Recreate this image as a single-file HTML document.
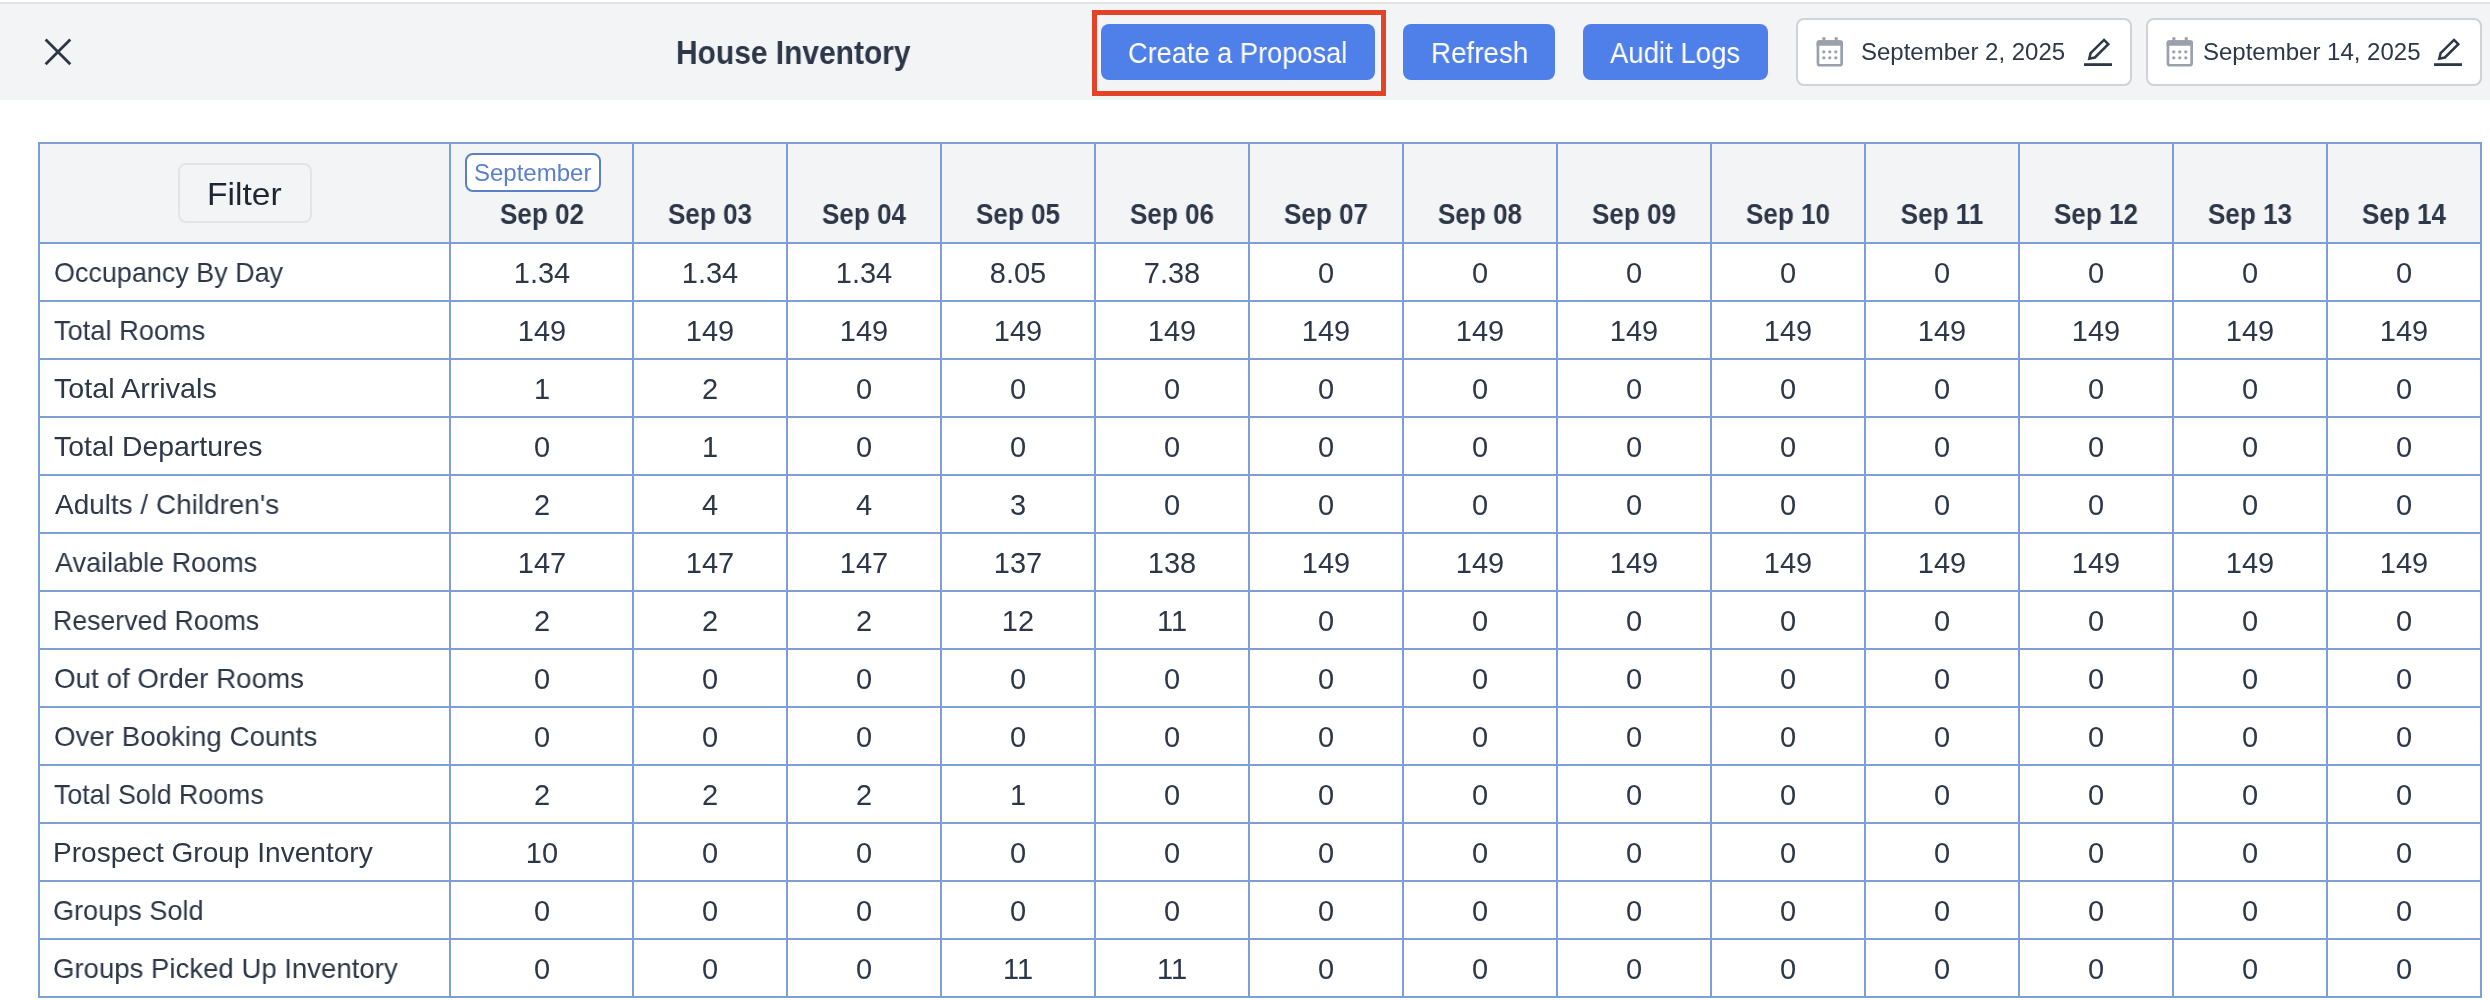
<!DOCTYPE html>
<html><head><meta charset="utf-8"><title>House Inventory</title>
<style>
html,body{margin:0;padding:0;background:#fff;}
body{width:2490px;height:1000px;position:relative;overflow:hidden;font-family:"Liberation Sans",sans-serif;color:#2d3748;}
.a{position:absolute;}
.t{position:absolute;white-space:nowrap;line-height:1;will-change:transform;}
.c{position:absolute;white-space:nowrap;line-height:1;text-align:center;width:200px;will-change:transform;}
.vl{position:absolute;width:2px;background:#7e9fd5;top:142px;height:856px;}
.hl{position:absolute;height:2px;background:#7e9fd5;left:38px;width:2444px;}
.btn{position:absolute;background:#4f80ea;border-radius:8px;top:24px;height:56px;}
.btxt{position:absolute;white-space:nowrap;line-height:1;color:#fff;font-size:29px;transform-origin:0 0;will-change:transform;}
.dp{position:absolute;top:18px;height:64px;width:332px;border:2px solid #cfd2d6;border-radius:8px;background:#fff;}
</style></head><body>

<div class="a" style="left:0;top:2px;width:2490px;height:2px;background:#e2e3e5"></div>
<div class="a" style="left:0;top:4px;width:2490px;height:96px;background:#f3f4f6"></div>
<svg class="a" style="left:40px;top:34px" width="36" height="36" viewBox="0 0 36 36"><path d="M5.6 5.5 L30.3 30.2 M30.3 5.5 L5.6 30.2" stroke="#2d3748" stroke-width="2.8" fill="none"/></svg>
<div class="t" id="title" style="left:676px;top:35.5px;font-size:33px;font-weight:700;transform:scaleX(0.907);transform-origin:0 0">House Inventory</div>
<div class="a" style="left:1092px;top:10px;width:284px;height:76px;border:5px solid #e24329"></div>
<div class="btn" style="left:1101px;width:274px"></div>
<div class="btxt" id="b1" style="left:1128px;top:39px;transform:scaleX(0.938)">Create a Proposal</div>
<div class="btn" style="left:1403px;width:152px"></div>
<div class="btxt" id="b2" style="left:1430.5px;top:39px;transform:scaleX(0.957)">Refresh</div>
<div class="btn" style="left:1583px;width:185px"></div>
<div class="btxt" id="b3" style="left:1610px;top:39px;transform:scaleX(0.95)">Audit Logs</div>
<div class="dp" style="left:1796px"></div>
<svg class="a" style="left:1810px;top:32px" width="40" height="40" viewBox="0 0 40 40"><rect x="7.95" y="9.55" width="23.7" height="23.7" rx="2" fill="none" stroke="#9ba1ab" stroke-width="2.7"/><path d="M6.6 10.6 Q6.6 8.2 9 8.2 L30.6 8.2 Q33 8.2 33 10.6 L33 13.8 L6.6 13.8 Z" fill="#9ba1ab"/><rect x="12.4" y="5.2" width="3" height="4" fill="#9ba1ab"/><rect x="24.7" y="5.2" width="3" height="4" fill="#9ba1ab"/><g fill="#9ba1ab"><circle cx="13.8" cy="19.8" r="1.6"/><circle cx="19.8" cy="19.8" r="1.6"/><circle cx="25.8" cy="19.8" r="1.6"/><circle cx="13.8" cy="25.8" r="1.6"/><circle cx="19.8" cy="25.8" r="1.6"/><circle cx="25.8" cy="25.8" r="1.6"/></g></svg>
<div class="t" id="d1" style="left:1861px;top:40px;font-size:24px">September 2, 2025</div>
<svg class="a" style="left:2084px;top:37px" width="30" height="30" viewBox="0 0 30 30"><path d="M20 2.9 L24.3 7.2 L10.9 20.5 L5.3 21.7 L6.6 16.2 Z" fill="none" stroke="#2d3748" stroke-width="2.5" stroke-linejoin="miter"/><rect x="0" y="26.2" width="28" height="2.8" fill="#2d3748"/></svg>
<div class="dp" style="left:2146px"></div>
<svg class="a" style="left:2160px;top:32px" width="40" height="40" viewBox="0 0 40 40"><rect x="7.95" y="9.55" width="23.7" height="23.7" rx="2" fill="none" stroke="#9ba1ab" stroke-width="2.7"/><path d="M6.6 10.6 Q6.6 8.2 9 8.2 L30.6 8.2 Q33 8.2 33 10.6 L33 13.8 L6.6 13.8 Z" fill="#9ba1ab"/><rect x="12.4" y="5.2" width="3" height="4" fill="#9ba1ab"/><rect x="24.7" y="5.2" width="3" height="4" fill="#9ba1ab"/><g fill="#9ba1ab"><circle cx="13.8" cy="19.8" r="1.6"/><circle cx="19.8" cy="19.8" r="1.6"/><circle cx="25.8" cy="19.8" r="1.6"/><circle cx="13.8" cy="25.8" r="1.6"/><circle cx="19.8" cy="25.8" r="1.6"/><circle cx="25.8" cy="25.8" r="1.6"/></g></svg>
<div class="t" id="d2" style="left:2203px;top:40px;font-size:24px">September 14, 2025</div>
<svg class="a" style="left:2434px;top:37px" width="30" height="30" viewBox="0 0 30 30"><path d="M20 2.9 L24.3 7.2 L10.9 20.5 L5.3 21.7 L6.6 16.2 Z" fill="none" stroke="#2d3748" stroke-width="2.5" stroke-linejoin="miter"/><rect x="0" y="26.2" width="28" height="2.8" fill="#2d3748"/></svg>
<div class="a" style="left:40px;top:144px;width:2440px;height:98px;background:#f3f4f6"></div>
<div class="hl" style="top:142px"></div>
<div class="hl" style="top:242px"></div>
<div class="hl" style="top:300px"></div>
<div class="hl" style="top:358px"></div>
<div class="hl" style="top:416px"></div>
<div class="hl" style="top:474px"></div>
<div class="hl" style="top:532px"></div>
<div class="hl" style="top:590px"></div>
<div class="hl" style="top:648px"></div>
<div class="hl" style="top:706px"></div>
<div class="hl" style="top:764px"></div>
<div class="hl" style="top:822px"></div>
<div class="hl" style="top:880px"></div>
<div class="hl" style="top:938px"></div>
<div class="hl" style="top:996px"></div>
<div class="vl" style="left:38px"></div>
<div class="vl" style="left:449px"></div>
<div class="vl" style="left:632px"></div>
<div class="vl" style="left:786px"></div>
<div class="vl" style="left:940px"></div>
<div class="vl" style="left:1094px"></div>
<div class="vl" style="left:1248px"></div>
<div class="vl" style="left:1402px"></div>
<div class="vl" style="left:1556px"></div>
<div class="vl" style="left:1710px"></div>
<div class="vl" style="left:1864px"></div>
<div class="vl" style="left:2018px"></div>
<div class="vl" style="left:2172px"></div>
<div class="vl" style="left:2326px"></div>
<div class="vl" style="left:2480px"></div>
<div class="a" style="left:178px;top:163px;width:130px;height:56px;border:2px solid #e3e5e8;border-radius:8px"></div>
<div class="t" id="filter" style="left:206.5px;top:178px;font-size:32px;color:#1f2633;transform:scaleX(1.05);transform-origin:0 0">Filter</div>
<div class="a" style="left:465px;top:153px;width:132px;height:35px;border:2px solid #5b80c8;border-radius:8px;background:#fff"></div>
<div class="t" id="sept" style="left:474px;top:161px;font-size:24px;color:#5a80cc">September</div>
<div class="c" style="left:441.5px;top:200px;font-size:29px;font-weight:700;transform:scaleX(0.90)">Sep 02</div>
<div class="c" style="left:610px;top:200px;font-size:29px;font-weight:700;transform:scaleX(0.90)">Sep 03</div>
<div class="c" style="left:764px;top:200px;font-size:29px;font-weight:700;transform:scaleX(0.90)">Sep 04</div>
<div class="c" style="left:918px;top:200px;font-size:29px;font-weight:700;transform:scaleX(0.90)">Sep 05</div>
<div class="c" style="left:1072px;top:200px;font-size:29px;font-weight:700;transform:scaleX(0.90)">Sep 06</div>
<div class="c" style="left:1226px;top:200px;font-size:29px;font-weight:700;transform:scaleX(0.90)">Sep 07</div>
<div class="c" style="left:1380px;top:200px;font-size:29px;font-weight:700;transform:scaleX(0.90)">Sep 08</div>
<div class="c" style="left:1534px;top:200px;font-size:29px;font-weight:700;transform:scaleX(0.90)">Sep 09</div>
<div class="c" style="left:1688px;top:200px;font-size:29px;font-weight:700;transform:scaleX(0.90)">Sep 10</div>
<div class="c" style="left:1842px;top:200px;font-size:29px;font-weight:700;transform:scaleX(0.90)">Sep 11</div>
<div class="c" style="left:1996px;top:200px;font-size:29px;font-weight:700;transform:scaleX(0.90)">Sep 12</div>
<div class="c" style="left:2150px;top:200px;font-size:29px;font-weight:700;transform:scaleX(0.90)">Sep 13</div>
<div class="c" style="left:2304px;top:200px;font-size:29px;font-weight:700;transform:scaleX(0.90)">Sep 14</div>
<div class="t" style="left:53.5px;top:259px;font-size:28px;color:#2d3748;transform:scaleX(0.9624);transform-origin:0 0">Occupancy By Day</div>
<div class="c" style="left:441.5px;top:259px;font-size:29px;color:#2d3748">1.34</div>
<div class="c" style="left:610px;top:259px;font-size:29px;color:#2d3748">1.34</div>
<div class="c" style="left:764px;top:259px;font-size:29px;color:#2d3748">1.34</div>
<div class="c" style="left:918px;top:259px;font-size:29px;color:#2d3748">8.05</div>
<div class="c" style="left:1072px;top:259px;font-size:29px;color:#2d3748">7.38</div>
<div class="c" style="left:1226px;top:259px;font-size:29px;color:#2d3748">0</div>
<div class="c" style="left:1380px;top:259px;font-size:29px;color:#2d3748">0</div>
<div class="c" style="left:1534px;top:259px;font-size:29px;color:#2d3748">0</div>
<div class="c" style="left:1688px;top:259px;font-size:29px;color:#2d3748">0</div>
<div class="c" style="left:1842px;top:259px;font-size:29px;color:#2d3748">0</div>
<div class="c" style="left:1996px;top:259px;font-size:29px;color:#2d3748">0</div>
<div class="c" style="left:2150px;top:259px;font-size:29px;color:#2d3748">0</div>
<div class="c" style="left:2304px;top:259px;font-size:29px;color:#2d3748">0</div>
<div class="t" style="left:53.5px;top:317px;font-size:28px;color:#2d3748;transform:scaleX(0.9725);transform-origin:0 0">Total Rooms</div>
<div class="c" style="left:441.5px;top:317px;font-size:29px;color:#2d3748">149</div>
<div class="c" style="left:610px;top:317px;font-size:29px;color:#2d3748">149</div>
<div class="c" style="left:764px;top:317px;font-size:29px;color:#2d3748">149</div>
<div class="c" style="left:918px;top:317px;font-size:29px;color:#2d3748">149</div>
<div class="c" style="left:1072px;top:317px;font-size:29px;color:#2d3748">149</div>
<div class="c" style="left:1226px;top:317px;font-size:29px;color:#2d3748">149</div>
<div class="c" style="left:1380px;top:317px;font-size:29px;color:#2d3748">149</div>
<div class="c" style="left:1534px;top:317px;font-size:29px;color:#2d3748">149</div>
<div class="c" style="left:1688px;top:317px;font-size:29px;color:#2d3748">149</div>
<div class="c" style="left:1842px;top:317px;font-size:29px;color:#2d3748">149</div>
<div class="c" style="left:1996px;top:317px;font-size:29px;color:#2d3748">149</div>
<div class="c" style="left:2150px;top:317px;font-size:29px;color:#2d3748">149</div>
<div class="c" style="left:2304px;top:317px;font-size:29px;color:#2d3748">149</div>
<div class="t" style="left:53.5px;top:375px;font-size:28px;color:#2d3748;transform:scaleX(1.0255);transform-origin:0 0">Total Arrivals</div>
<div class="c" style="left:441.5px;top:375px;font-size:29px;color:#2d3748">1</div>
<div class="c" style="left:610px;top:375px;font-size:29px;color:#2d3748">2</div>
<div class="c" style="left:764px;top:375px;font-size:29px;color:#2d3748">0</div>
<div class="c" style="left:918px;top:375px;font-size:29px;color:#2d3748">0</div>
<div class="c" style="left:1072px;top:375px;font-size:29px;color:#2d3748">0</div>
<div class="c" style="left:1226px;top:375px;font-size:29px;color:#2d3748">0</div>
<div class="c" style="left:1380px;top:375px;font-size:29px;color:#2d3748">0</div>
<div class="c" style="left:1534px;top:375px;font-size:29px;color:#2d3748">0</div>
<div class="c" style="left:1688px;top:375px;font-size:29px;color:#2d3748">0</div>
<div class="c" style="left:1842px;top:375px;font-size:29px;color:#2d3748">0</div>
<div class="c" style="left:1996px;top:375px;font-size:29px;color:#2d3748">0</div>
<div class="c" style="left:2150px;top:375px;font-size:29px;color:#2d3748">0</div>
<div class="c" style="left:2304px;top:375px;font-size:29px;color:#2d3748">0</div>
<div class="t" style="left:53.5px;top:433px;font-size:28px;color:#2d3748;transform:scaleX(1.0148);transform-origin:0 0">Total Departures</div>
<div class="c" style="left:441.5px;top:433px;font-size:29px;color:#2d3748">0</div>
<div class="c" style="left:610px;top:433px;font-size:29px;color:#2d3748">1</div>
<div class="c" style="left:764px;top:433px;font-size:29px;color:#2d3748">0</div>
<div class="c" style="left:918px;top:433px;font-size:29px;color:#2d3748">0</div>
<div class="c" style="left:1072px;top:433px;font-size:29px;color:#2d3748">0</div>
<div class="c" style="left:1226px;top:433px;font-size:29px;color:#2d3748">0</div>
<div class="c" style="left:1380px;top:433px;font-size:29px;color:#2d3748">0</div>
<div class="c" style="left:1534px;top:433px;font-size:29px;color:#2d3748">0</div>
<div class="c" style="left:1688px;top:433px;font-size:29px;color:#2d3748">0</div>
<div class="c" style="left:1842px;top:433px;font-size:29px;color:#2d3748">0</div>
<div class="c" style="left:1996px;top:433px;font-size:29px;color:#2d3748">0</div>
<div class="c" style="left:2150px;top:433px;font-size:29px;color:#2d3748">0</div>
<div class="c" style="left:2304px;top:433px;font-size:29px;color:#2d3748">0</div>
<div class="t" style="left:54.5px;top:491px;font-size:28px;color:#2d3748;transform:scaleX(0.9973);transform-origin:0 0">Adults / Children's</div>
<div class="c" style="left:441.5px;top:491px;font-size:29px;color:#2d3748">2</div>
<div class="c" style="left:610px;top:491px;font-size:29px;color:#2d3748">4</div>
<div class="c" style="left:764px;top:491px;font-size:29px;color:#2d3748">4</div>
<div class="c" style="left:918px;top:491px;font-size:29px;color:#2d3748">3</div>
<div class="c" style="left:1072px;top:491px;font-size:29px;color:#2d3748">0</div>
<div class="c" style="left:1226px;top:491px;font-size:29px;color:#2d3748">0</div>
<div class="c" style="left:1380px;top:491px;font-size:29px;color:#2d3748">0</div>
<div class="c" style="left:1534px;top:491px;font-size:29px;color:#2d3748">0</div>
<div class="c" style="left:1688px;top:491px;font-size:29px;color:#2d3748">0</div>
<div class="c" style="left:1842px;top:491px;font-size:29px;color:#2d3748">0</div>
<div class="c" style="left:1996px;top:491px;font-size:29px;color:#2d3748">0</div>
<div class="c" style="left:2150px;top:491px;font-size:29px;color:#2d3748">0</div>
<div class="c" style="left:2304px;top:491px;font-size:29px;color:#2d3748">0</div>
<div class="t" style="left:54.5px;top:549px;font-size:28px;color:#2d3748;transform:scaleX(0.9649);transform-origin:0 0">Available Rooms</div>
<div class="c" style="left:441.5px;top:549px;font-size:29px;color:#2d3748">147</div>
<div class="c" style="left:610px;top:549px;font-size:29px;color:#2d3748">147</div>
<div class="c" style="left:764px;top:549px;font-size:29px;color:#2d3748">147</div>
<div class="c" style="left:918px;top:549px;font-size:29px;color:#2d3748">137</div>
<div class="c" style="left:1072px;top:549px;font-size:29px;color:#2d3748">138</div>
<div class="c" style="left:1226px;top:549px;font-size:29px;color:#2d3748">149</div>
<div class="c" style="left:1380px;top:549px;font-size:29px;color:#2d3748">149</div>
<div class="c" style="left:1534px;top:549px;font-size:29px;color:#2d3748">149</div>
<div class="c" style="left:1688px;top:549px;font-size:29px;color:#2d3748">149</div>
<div class="c" style="left:1842px;top:549px;font-size:29px;color:#2d3748">149</div>
<div class="c" style="left:1996px;top:549px;font-size:29px;color:#2d3748">149</div>
<div class="c" style="left:2150px;top:549px;font-size:29px;color:#2d3748">149</div>
<div class="c" style="left:2304px;top:549px;font-size:29px;color:#2d3748">149</div>
<div class="t" style="left:52.5px;top:607px;font-size:28px;color:#2d3748;transform:scaleX(0.9531);transform-origin:0 0">Reserved Rooms</div>
<div class="c" style="left:441.5px;top:607px;font-size:29px;color:#2d3748">2</div>
<div class="c" style="left:610px;top:607px;font-size:29px;color:#2d3748">2</div>
<div class="c" style="left:764px;top:607px;font-size:29px;color:#2d3748">2</div>
<div class="c" style="left:918px;top:607px;font-size:29px;color:#2d3748">12</div>
<div class="c" style="left:1072px;top:607px;font-size:29px;color:#2d3748">11</div>
<div class="c" style="left:1226px;top:607px;font-size:29px;color:#2d3748">0</div>
<div class="c" style="left:1380px;top:607px;font-size:29px;color:#2d3748">0</div>
<div class="c" style="left:1534px;top:607px;font-size:29px;color:#2d3748">0</div>
<div class="c" style="left:1688px;top:607px;font-size:29px;color:#2d3748">0</div>
<div class="c" style="left:1842px;top:607px;font-size:29px;color:#2d3748">0</div>
<div class="c" style="left:1996px;top:607px;font-size:29px;color:#2d3748">0</div>
<div class="c" style="left:2150px;top:607px;font-size:29px;color:#2d3748">0</div>
<div class="c" style="left:2304px;top:607px;font-size:29px;color:#2d3748">0</div>
<div class="t" style="left:53.5px;top:665px;font-size:28px;color:#2d3748;transform:scaleX(0.9920);transform-origin:0 0">Out of Order Rooms</div>
<div class="c" style="left:441.5px;top:665px;font-size:29px;color:#2d3748">0</div>
<div class="c" style="left:610px;top:665px;font-size:29px;color:#2d3748">0</div>
<div class="c" style="left:764px;top:665px;font-size:29px;color:#2d3748">0</div>
<div class="c" style="left:918px;top:665px;font-size:29px;color:#2d3748">0</div>
<div class="c" style="left:1072px;top:665px;font-size:29px;color:#2d3748">0</div>
<div class="c" style="left:1226px;top:665px;font-size:29px;color:#2d3748">0</div>
<div class="c" style="left:1380px;top:665px;font-size:29px;color:#2d3748">0</div>
<div class="c" style="left:1534px;top:665px;font-size:29px;color:#2d3748">0</div>
<div class="c" style="left:1688px;top:665px;font-size:29px;color:#2d3748">0</div>
<div class="c" style="left:1842px;top:665px;font-size:29px;color:#2d3748">0</div>
<div class="c" style="left:1996px;top:665px;font-size:29px;color:#2d3748">0</div>
<div class="c" style="left:2150px;top:665px;font-size:29px;color:#2d3748">0</div>
<div class="c" style="left:2304px;top:665px;font-size:29px;color:#2d3748">0</div>
<div class="t" style="left:53.5px;top:723px;font-size:28px;color:#2d3748;transform:scaleX(0.9890);transform-origin:0 0">Over Booking Counts</div>
<div class="c" style="left:441.5px;top:723px;font-size:29px;color:#2d3748">0</div>
<div class="c" style="left:610px;top:723px;font-size:29px;color:#2d3748">0</div>
<div class="c" style="left:764px;top:723px;font-size:29px;color:#2d3748">0</div>
<div class="c" style="left:918px;top:723px;font-size:29px;color:#2d3748">0</div>
<div class="c" style="left:1072px;top:723px;font-size:29px;color:#2d3748">0</div>
<div class="c" style="left:1226px;top:723px;font-size:29px;color:#2d3748">0</div>
<div class="c" style="left:1380px;top:723px;font-size:29px;color:#2d3748">0</div>
<div class="c" style="left:1534px;top:723px;font-size:29px;color:#2d3748">0</div>
<div class="c" style="left:1688px;top:723px;font-size:29px;color:#2d3748">0</div>
<div class="c" style="left:1842px;top:723px;font-size:29px;color:#2d3748">0</div>
<div class="c" style="left:1996px;top:723px;font-size:29px;color:#2d3748">0</div>
<div class="c" style="left:2150px;top:723px;font-size:29px;color:#2d3748">0</div>
<div class="c" style="left:2304px;top:723px;font-size:29px;color:#2d3748">0</div>
<div class="t" style="left:53.5px;top:781px;font-size:28px;color:#2d3748;transform:scaleX(0.9558);transform-origin:0 0">Total Sold Rooms</div>
<div class="c" style="left:441.5px;top:781px;font-size:29px;color:#2d3748">2</div>
<div class="c" style="left:610px;top:781px;font-size:29px;color:#2d3748">2</div>
<div class="c" style="left:764px;top:781px;font-size:29px;color:#2d3748">2</div>
<div class="c" style="left:918px;top:781px;font-size:29px;color:#2d3748">1</div>
<div class="c" style="left:1072px;top:781px;font-size:29px;color:#2d3748">0</div>
<div class="c" style="left:1226px;top:781px;font-size:29px;color:#2d3748">0</div>
<div class="c" style="left:1380px;top:781px;font-size:29px;color:#2d3748">0</div>
<div class="c" style="left:1534px;top:781px;font-size:29px;color:#2d3748">0</div>
<div class="c" style="left:1688px;top:781px;font-size:29px;color:#2d3748">0</div>
<div class="c" style="left:1842px;top:781px;font-size:29px;color:#2d3748">0</div>
<div class="c" style="left:1996px;top:781px;font-size:29px;color:#2d3748">0</div>
<div class="c" style="left:2150px;top:781px;font-size:29px;color:#2d3748">0</div>
<div class="c" style="left:2304px;top:781px;font-size:29px;color:#2d3748">0</div>
<div class="t" style="left:52.5px;top:839px;font-size:28px;color:#2d3748;transform:scaleX(1.0019);transform-origin:0 0">Prospect Group Inventory</div>
<div class="c" style="left:441.5px;top:839px;font-size:29px;color:#2d3748">10</div>
<div class="c" style="left:610px;top:839px;font-size:29px;color:#2d3748">0</div>
<div class="c" style="left:764px;top:839px;font-size:29px;color:#2d3748">0</div>
<div class="c" style="left:918px;top:839px;font-size:29px;color:#2d3748">0</div>
<div class="c" style="left:1072px;top:839px;font-size:29px;color:#2d3748">0</div>
<div class="c" style="left:1226px;top:839px;font-size:29px;color:#2d3748">0</div>
<div class="c" style="left:1380px;top:839px;font-size:29px;color:#2d3748">0</div>
<div class="c" style="left:1534px;top:839px;font-size:29px;color:#2d3748">0</div>
<div class="c" style="left:1688px;top:839px;font-size:29px;color:#2d3748">0</div>
<div class="c" style="left:1842px;top:839px;font-size:29px;color:#2d3748">0</div>
<div class="c" style="left:1996px;top:839px;font-size:29px;color:#2d3748">0</div>
<div class="c" style="left:2150px;top:839px;font-size:29px;color:#2d3748">0</div>
<div class="c" style="left:2304px;top:839px;font-size:29px;color:#2d3748">0</div>
<div class="t" style="left:52.5px;top:897px;font-size:28px;color:#2d3748;transform:scaleX(0.9678);transform-origin:0 0">Groups Sold</div>
<div class="c" style="left:441.5px;top:897px;font-size:29px;color:#2d3748">0</div>
<div class="c" style="left:610px;top:897px;font-size:29px;color:#2d3748">0</div>
<div class="c" style="left:764px;top:897px;font-size:29px;color:#2d3748">0</div>
<div class="c" style="left:918px;top:897px;font-size:29px;color:#2d3748">0</div>
<div class="c" style="left:1072px;top:897px;font-size:29px;color:#2d3748">0</div>
<div class="c" style="left:1226px;top:897px;font-size:29px;color:#2d3748">0</div>
<div class="c" style="left:1380px;top:897px;font-size:29px;color:#2d3748">0</div>
<div class="c" style="left:1534px;top:897px;font-size:29px;color:#2d3748">0</div>
<div class="c" style="left:1688px;top:897px;font-size:29px;color:#2d3748">0</div>
<div class="c" style="left:1842px;top:897px;font-size:29px;color:#2d3748">0</div>
<div class="c" style="left:1996px;top:897px;font-size:29px;color:#2d3748">0</div>
<div class="c" style="left:2150px;top:897px;font-size:29px;color:#2d3748">0</div>
<div class="c" style="left:2304px;top:897px;font-size:29px;color:#2d3748">0</div>
<div class="t" style="left:52.5px;top:955px;font-size:28px;color:#2d3748;transform:scaleX(0.9842);transform-origin:0 0">Groups Picked Up Inventory</div>
<div class="c" style="left:441.5px;top:955px;font-size:29px;color:#2d3748">0</div>
<div class="c" style="left:610px;top:955px;font-size:29px;color:#2d3748">0</div>
<div class="c" style="left:764px;top:955px;font-size:29px;color:#2d3748">0</div>
<div class="c" style="left:918px;top:955px;font-size:29px;color:#2d3748">11</div>
<div class="c" style="left:1072px;top:955px;font-size:29px;color:#2d3748">11</div>
<div class="c" style="left:1226px;top:955px;font-size:29px;color:#2d3748">0</div>
<div class="c" style="left:1380px;top:955px;font-size:29px;color:#2d3748">0</div>
<div class="c" style="left:1534px;top:955px;font-size:29px;color:#2d3748">0</div>
<div class="c" style="left:1688px;top:955px;font-size:29px;color:#2d3748">0</div>
<div class="c" style="left:1842px;top:955px;font-size:29px;color:#2d3748">0</div>
<div class="c" style="left:1996px;top:955px;font-size:29px;color:#2d3748">0</div>
<div class="c" style="left:2150px;top:955px;font-size:29px;color:#2d3748">0</div>
<div class="c" style="left:2304px;top:955px;font-size:29px;color:#2d3748">0</div>
</body></html>
